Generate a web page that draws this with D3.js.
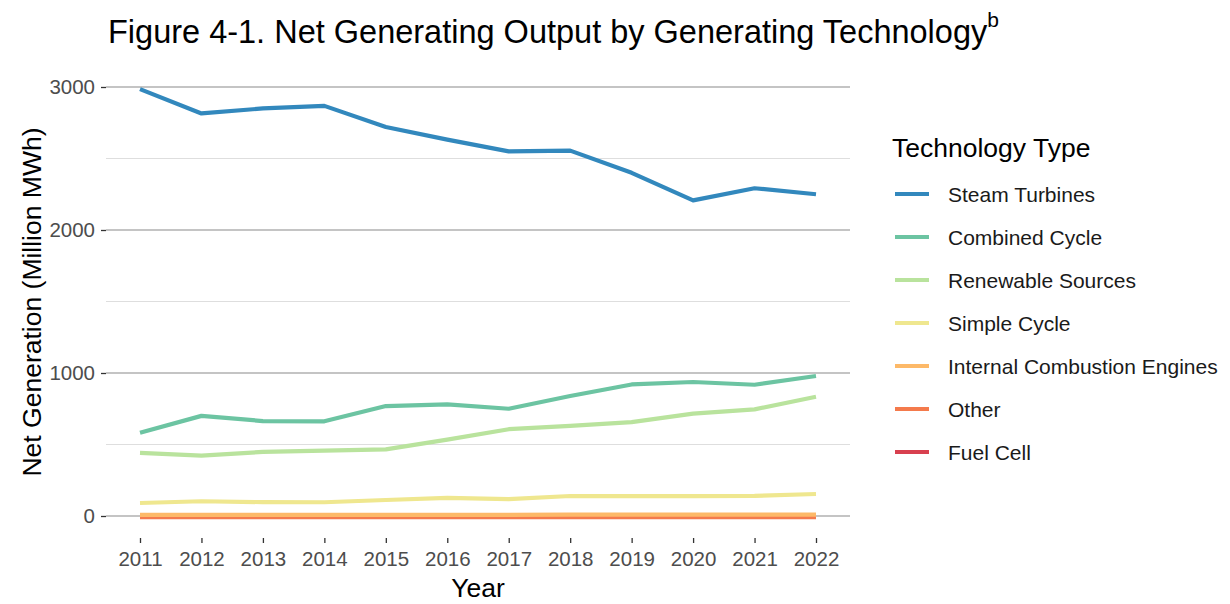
<!DOCTYPE html>
<html>
<head>
<meta charset="utf-8">
<script src="https://cdn.jsdelivr.net/npm/d3@7"></script>
<style>
  html, body { margin: 0; padding: 0; background: #ffffff; }
  svg { display: block; font-family: "Liberation Sans", Arial, Helvetica, sans-serif; }
</style>
</head>
<body>
<svg id="chart" width="1230" height="604"></svg>
<script>
const years = [2011, 2012, 2013, 2014, 2015, 2016, 2017, 2018, 2019, 2020, 2021, 2022];
const seriesNames = ["Steam Turbines", "Combined Cycle", "Renewable Sources", "Simple Cycle", "Internal Combustion Engines", "Other", "Fuel Cell"];
const seriesColors = ["#3288bd", "#6cc4a2", "#b9e39d", "#efe78f", "#fdb968", "#f47a4c", "#d8404f"];
const steamTurbines = [2985, 2815, 2850, 2868, 2720, 2632, 2550, 2555, 2400, 2207, 2292, 2250];
const combinedCycle = [582, 700, 664, 662, 769, 781, 750, 839, 920, 937, 918, 979];
const renewableSources = [441, 422, 448, 457, 466, 534, 607, 630, 657, 716, 746, 834];
const simpleCycle = [91, 103, 97, 96, 112, 127, 118, 140, 139, 139, 141, 154];
const internalCombustion = [8, 8, 8, 8, 8, 8, 8, 9, 9, 9, 9, 9];
const other = [-8, -8, -8, -8, -8, -8, -8, -8, -8, -8, -8, -8];
const fuelCell = [0.5, 0.6, 0.7, 0.8, 0.9, 1, 1.2, 1.4, 1.6, 1.8, 2, 2.2];
const yTicks = [0, 1000, 2000, 3000];
const yMinor = [500, 1500, 2500];

const seriesValues = [steamTurbines, combinedCycle, renewableSources, simpleCycle, internalCombustion, other, fuelCell];
const series = seriesNames.map((n, i) => ({ name: n, color: seriesColors[i], values: seriesValues[i] }));

const svg = d3.select("#chart");
const panel = { left: 106, right: 850, top: 66, bottom: 538 };

const x = d3.scaleLinear().domain([2011, 2022]).range([140, 816]);
const y = d3.scaleLinear().domain([0, 3000]).range([516, 87]);

// minor grid
svg.append("g").selectAll("line").data(yMinor).join("line")
  .attr("x1", panel.left).attr("x2", panel.right)
  .attr("y1", d => y(d)).attr("y2", d => y(d))
  .attr("stroke", "#dedede").attr("stroke-width", 1.2);
// major grid
svg.append("g").selectAll("line").data(yTicks).join("line")
  .attr("x1", panel.left).attr("x2", panel.right)
  .attr("y1", d => y(d)).attr("y2", d => y(d))
  .attr("stroke", "#c4c4c4").attr("stroke-width", 1.8);

const tickFont = "20.5px";

// y axis
const yAxis = d3.axisLeft(y).tickValues(yTicks).tickSize(5).tickPadding(6).tickFormat(d3.format("d"));
const gy = svg.append("g").attr("transform", `translate(${panel.left},0)`).call(yAxis);
gy.select(".domain").remove();
gy.selectAll(".tick line").attr("stroke", "#333").attr("stroke-width", 1.3);
gy.selectAll(".tick text").attr("fill", "#4d4d4d").style("font-size", tickFont)
  .style("font-family", "Liberation Sans, Arial, sans-serif");

// x axis
const xAxis = d3.axisBottom(x).tickValues(years).tickSize(5).tickPadding(8).tickFormat(d3.format("d"));
const gx = svg.append("g").attr("transform", `translate(0,${panel.bottom})`).call(xAxis);
gx.select(".domain").remove();
gx.selectAll(".tick line").attr("stroke", "#333").attr("stroke-width", 1.3);
gx.selectAll(".tick text").attr("fill", "#4d4d4d").style("font-size", tickFont)
  .style("font-family", "Liberation Sans, Arial, sans-serif");

// lines: drawn in reverse legend order so the first series is on top
const line = d3.line().x((d, i) => x(years[i])).y(d => y(d));
const drawOrder = series.slice().reverse();
svg.append("g").selectAll("path").data(drawOrder).join("path")
  .attr("d", d => line(d.values))
  .attr("fill", "none")
  .attr("stroke", d => d.color)
  .attr("stroke-width", 4.2)
  .attr("stroke-linejoin", "round");

// title
const title = svg.append("text").attr("x", 108).attr("y", 43)
  .style("font-size", "32.5px").attr("fill", "#000");
title.append("tspan").text("Figure 4-1. Net Generating Output by Generating Technology");
title.append("tspan").text("b").attr("dy", -16).style("font-size", "21px");

// axis titles
svg.append("text").attr("x", 478).attr("y", 597).attr("text-anchor", "middle")
  .style("font-size", "26.5px").attr("fill", "#000").text("Year");
svg.append("text").attr("transform", "translate(41,302) rotate(-90)").attr("text-anchor", "middle")
  .style("font-size", "26.5px").attr("fill", "#000").text("Net Generation (Million MWh)");

// legend
const lg = svg.append("g");
lg.append("text").attr("x", 892).attr("y", 157).style("font-size", "26.5px").attr("fill", "#000").text("Technology Type");
const items = lg.selectAll("g.item").data(series).join("g").attr("class", "item")
  .attr("transform", (d, i) => `translate(0,${194 + i * 43})`);
items.append("line").attr("x1", 895).attr("x2", 929).attr("y1", 0).attr("y2", 0)
  .attr("stroke", d => d.color).attr("stroke-width", 4.2);
items.append("text").attr("x", 948).attr("y", 7.5).style("font-size", "21px").attr("fill", "#1a1a1a").text(d => d.name);
</script>
</body>
</html>
